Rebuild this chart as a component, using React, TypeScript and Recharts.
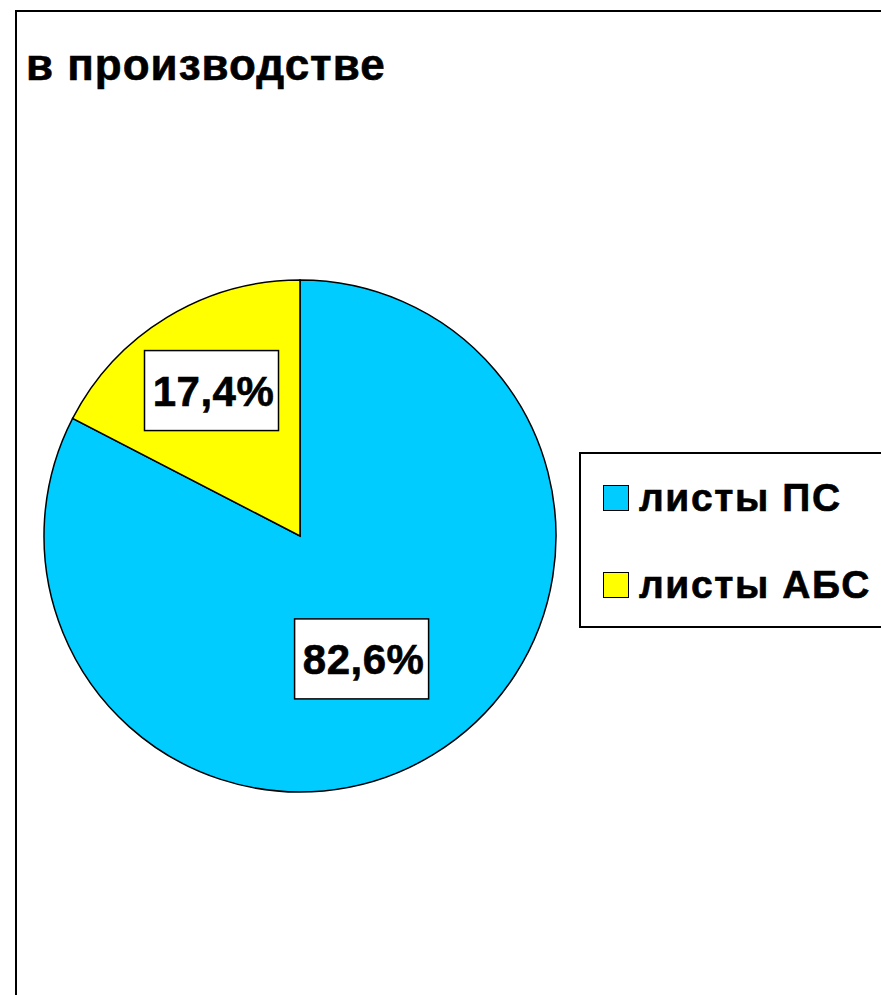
import { Cell, Legend, Pie, PieChart } from "recharts";

const categories = ["листы ПС", "листы АБС"];
const shares = [82.6, 17.4];
const colors = ["#00CCFF", "#FFFF00"];
const title = "в производстве";

// положение подписи: доля внешнего радиуса и сдвиг угла (как в исходнике Excel)
const labelRadius = [0.537, 0.665];
const labelAngleNudge = [-4.7, 0];

const data = categories.map((name, i) => ({ name, value: shares[i] }));

const FONT = "'Liberation Sans', Arial, sans-serif";

function fmt(v: number) {
  return `${v.toFixed(1).replace(".", ",")}%`;
}

const RADIAN = Math.PI / 180;

function renderLabel(props: any) {
  const { cx, cy, midAngle, outerRadius, index, value } = props;
  const r = outerRadius * labelRadius[index];
  const a = (midAngle + labelAngleNudge[index]) * RADIAN;
  const x = cx + r * Math.cos(-a);
  const y = cy + r * Math.sin(-a);
  const w = 134;
  const h = 80;
  return (
    <g>
      <rect
        x={x - w / 2}
        y={y - h / 2}
        width={w}
        height={h}
        fill="#ffffff"
        stroke="#000000"
        strokeWidth={1.5}
      />
      <text
        x={x + 2}
        y={y + 15}
        textAnchor="middle"
        fontFamily={FONT}
        fontWeight="bold"
        fontSize={42}
        letterSpacing={0.5}
        fill="#000000"
        stroke="#000000"
        strokeWidth={0.6}
      >
        {fmt(value)}
      </text>
    </g>
  );
}

function LegendBox(props: any) {
  // порядок как в данных, а не по алфавиту
  const items = [...(props.payload ?? [])].sort(
    (a: any, b: any) => categories.indexOf(a.value) - categories.indexOf(b.value),
  );
  return (
    <div
      style={{
        border: "2px solid #000",
        width: 320,
        height: 176,
        boxSizing: "border-box",
        background: "#fff",
        position: "relative",
      }}
    >
      {items.map((it: any, i: number) => (
        <div
          key={it.value}
          style={{
            position: "absolute",
            left: 22,
            top: 30 + i * 87,
            display: "flex",
            alignItems: "center",
            height: 28,
          }}
        >
          <span
            style={{
              display: "inline-block",
              width: 24,
              height: 24,
              background: it.color,
              border: "1.5px solid #000",
            }}
          />
          <span
            style={{
              marginLeft: 10,
              fontFamily: FONT,
              fontWeight: "bold",
              fontSize: 39,
              letterSpacing: 1.6,
              lineHeight: "28px",
              color: "#000",
              whiteSpace: "nowrap",
              WebkitTextStroke: "0.6px #000",
            }}
          >
            {it.value}
          </span>
        </div>
      ))}
    </div>
  );
}

export default function App() {
  return (
    <div
      style={{
        position: "absolute",
        left: 0,
        top: 0,
        width: 881,
        height: 995,
        overflow: "hidden",
        background: "#fff",
      }}
    >
      <svg
        width={881}
        height={995}
        style={{ position: "absolute", left: 0, top: 0 }}
      >
        <rect
          x={16}
          y={11}
          width={900}
          height={1000}
          fill="#fff"
          stroke="#000"
          strokeWidth={2}
        />
        <text
          x={26}
          y={80}
          fontFamily={FONT}
          fontWeight="bold"
          fontSize={44}
          letterSpacing={1}
          fill="#000"
          stroke="#000"
          strokeWidth={0.6}
        >
          {title}
        </text>
      </svg>
      <div style={{ position: "absolute", left: 0, top: 0 }}>
        <PieChart
          width={881}
          height={995}
          margin={{ top: 0, right: 0, bottom: 0, left: 0 }}
        >
          <Pie
            data={data}
            dataKey="value"
            nameKey="name"
            cx={300}
            cy={536}
            outerRadius={256}
            startAngle={90}
            endAngle={-270}
            stroke="#000"
            strokeWidth={1.5}
            label={renderLabel}
            labelLine={false}
            isAnimationActive={false}
          >
            {data.map((d, i) => (
              <Cell key={d.name} fill={colors[i]} />
            ))}
          </Pie>
          <Legend
            layout="vertical"
            content={<LegendBox />}
            wrapperStyle={{ position: "absolute", left: 579, top: 452, width: 320 }}
          />
        </PieChart>
      </div>
    </div>
  );
}
